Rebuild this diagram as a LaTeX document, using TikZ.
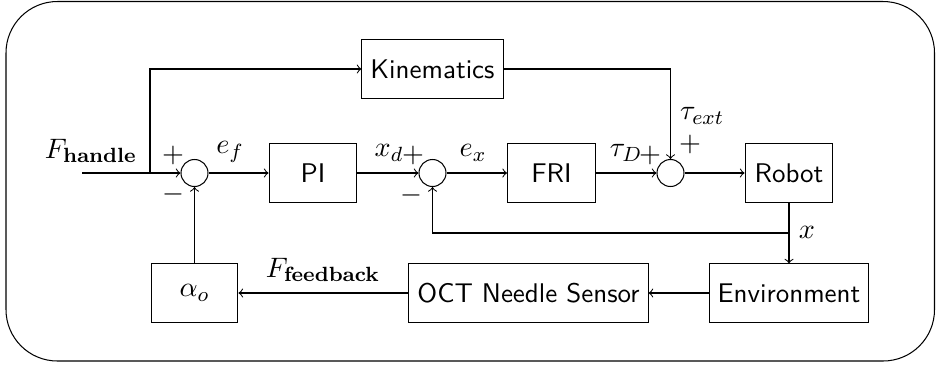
\documentclass[tikz,border=0pt]{standalone}
\usepackage{amsmath}
\begin{document}
\begin{tikzpicture}[x=0.389pt,y=-0.389pt,
  blk/.style={draw,font=\sffamily\fontsize{10.5}{12}\selectfont,minimum height=22.6pt,minimum width=34.2pt,inner sep=3.3pt},
  sumc/.style={draw,circle,minimum size=10.5pt,inner sep=0pt},
  lbl/.style={inner sep=0pt,font=\fontsize{11.3}{13}\selectfont},
  >=to]
\useasboundingbox (0,0) rectangle (936,365);
\draw[rounded corners=20pt] (6,1.5) rectangle (934.5,361);
% blocks
\node[blk,minimum width=54.9pt,minimum height=23pt] (kin) at (432.5,69) {Kinematics};
\node[sumc] (s1) at (194.5,173) {};
\node[blk] (pi) at (313,173) {PI};
\node[sumc] (s2) at (432.5,173) {};
\node[blk] (fri) at (551.5,173) {FRI};
\node[sumc] (s3) at (670.5,173) {};
\node[blk] (robot) at (789,173) {Robot};
\node[blk,minimum width=62.2pt] (env) at (789,293) {Environment};
\node[blk,minimum width=93pt] (oct) at (528.5,293) {OCT Needle Sensor};
\node[blk,minimum width=33.8pt,font=\fontsize{11.3}{13}\selectfont] (alpha) at (194.5,293) {$\alpha_o$};
% coordinates
\coordinate (in) at (82,173);
\coordinate (br) at (150,173);
\coordinate (fb) at (789,233);
% connectors
\draw[->] (in) -- (s1.west);
\draw[->] (br) |- (kin.west);
\draw[->] (s1) -- (pi);
\draw[->] (pi) -- (s2);
\draw[->] (s2) -- (fri);
\draw[->] (fri) -- (s3);
\draw[->] (s3) -- (robot);
\draw[->] (kin.east) -| (s3.north);
\draw[->] (robot.south) -- (env.north);
\draw[->] (fb) -| (s2.south);
\draw[->] (env.west) -- (oct.east);
\draw[->] (oct.west) -- (alpha.east);
\draw[->] (alpha.north) -- (s1.south);
% labels
\node[lbl] (lfh) at (91,151) {$F_{\mathbf{handle}}$};
\node[lbl] (lp1) at (173,155) {$+$};
\node[lbl] (lm1) at (173,194) {$-$};
\node[lbl] (lef) at (230,152) {$e_f$};
\node[lbl] (lxd) at (389,153) {$x_d$};
\node[lbl] (lp2) at (413,155) {$+$};
\node[lbl] (lm2) at (411,195) {$-$};
\node[lbl] (lex) at (473,153) {$e_x$};
\node[lbl] (ltd) at (626,153) {$\tau_D$};
\node[lbl] (lp3) at (650,155) {$+$};
\node[lbl] (lte) at (702,116) {$\tau_{ext}$};
\node[lbl] (lp4) at (690,144) {$+$};
\node[lbl] (lx) at (807,232) {$x$};
\node[lbl] (lff) at (323,270) {$F_{\mathbf{feedback}}$};
\end{tikzpicture}
\end{document}
